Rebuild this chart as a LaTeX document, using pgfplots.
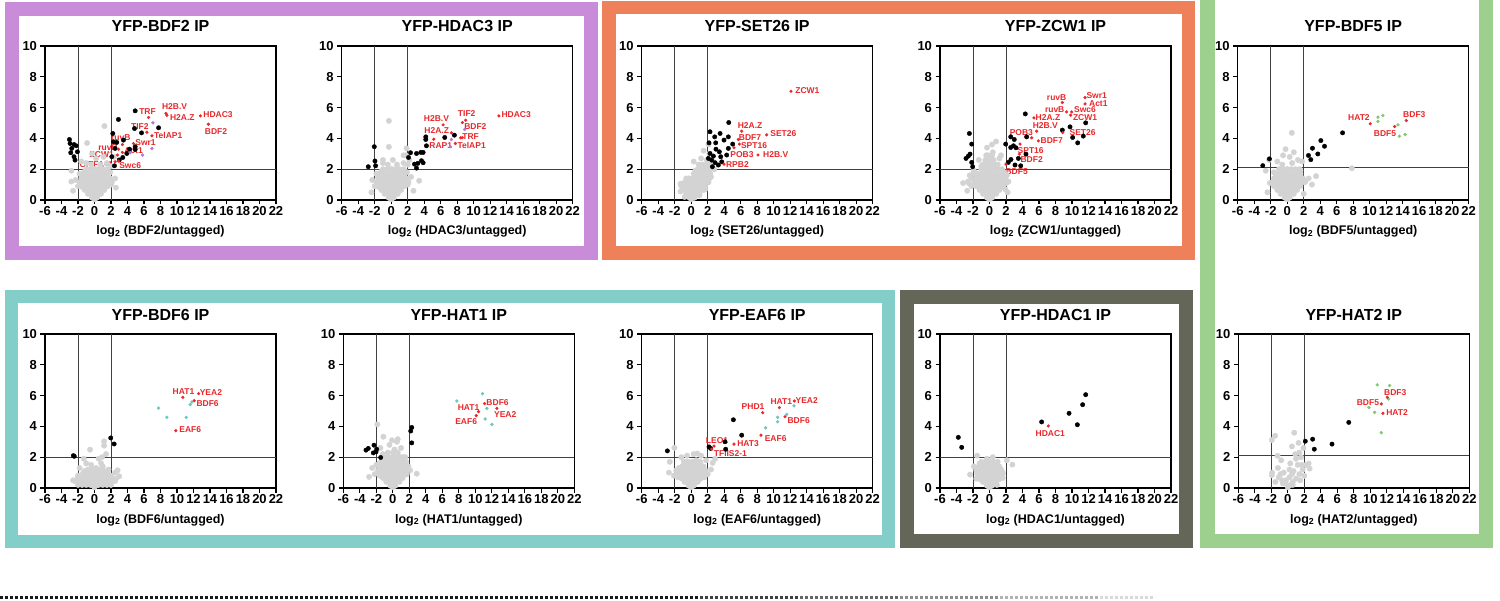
\documentclass[border=0pt]{standalone}
\usepackage{pgfplots}
\pgfplotsset{compat=1.18}
\usepackage{fontspec}
\setmainfont{Liberation Sans}
\definecolor{cpur}{RGB}{200,140,216}
\definecolor{cora}{RGB}{238,128,90}
\definecolor{cgrn}{RGB}{157,208,143}
\definecolor{ctea}{RGB}{132,206,202}
\definecolor{cdrk}{RGB}{100,102,88}
\definecolor{gry}{RGB}{211,211,211}
\definecolor{rd}{RGB}{232,40,43}
\definecolor{ppl}{RGB}{176,124,214}
\definecolor{grn}{RGB}{130,200,115}
\definecolor{tea}{RGB}{110,200,192}
\pgfplotsset{
 vp/.style={scale only axis, width=231pt, height=154pt, anchor=south west,
  xmin=-6, xmax=22, ymin=0, ymax=10,
  xtick={-6,-4,...,22}, ytick={0,2,...,10},
  tick align=outside, xtick pos=bottom, ytick pos=left,
  major tick length=4.5pt,
  axis line style={line width=1.4pt},
  every tick/.style={black, line width=1.2pt},
  tick label style={font=\fontsize{13}{13}\selectfont\bfseries},
  xticklabel style={inner sep=1.5pt},
  /pgf/number format/assume math mode=true,
  clip=false,
  title style={font=\fontsize{16}{16}\selectfont\bfseries, at={(axis description cs:0.5,1)}, anchor=base, yshift=8pt},
  xlabel style={font=\fontsize{12.5}{12.5}\selectfont\bfseries, at={(axis description cs:0.5,0)}, anchor=base, yshift=-35pt},
 },
 gp/.style={only marks, mark=*, mark size=2.7pt, color=gry},
 bp/.style={only marks, mark=*, mark size=2.2pt, color=black},
 rp/.style={only marks, mark=*, mark size=1.4pt, color=rd},
 cp/.style={only marks, mark=*, mark size=1.5pt, color=#1},
 thr/.style={black!75, line width=0.9pt},
}
\newcommand\lab[3]{\node[font=\fontsize{8.5}{8.5}\selectfont\bfseries, text=rd, inner sep=0pt] at (axis cs:#1,#2) {#3};}
\newcommand\thresh[1]{\addplot[thr] coordinates {(-2,0) (-2,10)};
 \addplot[thr] coordinates {(2,0) (2,10)};
 \addplot[thr] coordinates {(-6,#1) (22,#1)};}
% dense core of the grey cloud (shared shape of the volcano base)
\newcommand\corecloud{\addplot[gp] coordinates {(-0.3,0.15)(0,0.15)(0.3,0.15)
(-0.8,0.4)(-0.4,0.4)(0,0.4)(0.4,0.4)(0.8,0.4)
(-1.2,0.65)(-0.8,0.65)(-0.4,0.65)(0,0.65)(0.4,0.65)(0.8,0.65)(1.2,0.65)
(-1.6,0.9)(-1.2,0.9)(-0.8,0.9)(-0.4,0.9)(0,0.9)(0.4,0.9)(0.8,0.9)(1.2,0.9)(1.6,0.9)
(-1.8,1.15)(-1.3,1.15)(-0.8,1.15)(-0.3,1.15)(0.2,1.15)(0.7,1.15)(1.2,1.15)(1.7,1.15)(2.1,1.15)
(-1.6,1.4)(-1.1,1.4)(-0.6,1.4)(-0.1,1.4)(0.4,1.4)(0.9,1.4)(1.4,1.4)(1.9,1.4)
(-1.4,1.7)(-0.9,1.7)(-0.4,1.7)(0.1,1.7)(0.6,1.7)(1.1,1.7)(1.6,1.7)
(-1.0,2.0)(-0.5,2.0)(0,2.0)(0.5,2.0)(1.0,2.0)(1.5,2.0)};}
\begin{document}
\begin{tikzpicture}
\useasboundingbox (0,0) rectangle (1500pt,-601pt);
% frames
\draw[cpur, line width=14pt] (12pt,-9pt) rectangle (591pt,-253pt);
\draw[cora, line width=13.5pt] (608.75pt,-7.75pt) rectangle (1188.25pt,-253.25pt);
\draw[cgrn, line width=14.5pt] (1207.25pt,20pt) rectangle (1485.75pt,-540.75pt);
\draw[ctea, line width=13pt] (11.5pt,-296.5pt) rectangle (888.5pt,-541.5pt);
\draw[cdrk, line width=14pt] (907pt,-297pt) rectangle (1186pt,-541pt);
% dashed line
\draw[black!90, line width=2.6pt, dash pattern=on 3pt off 2pt] (0,-597.5pt) -- (700pt,-597.5pt);
\draw[black!75, line width=2.6pt, dash pattern=on 3pt off 2pt] (700pt,-597.5pt) -- (800pt,-597.5pt);
\draw[black!60, line width=2.6pt, dash pattern=on 3pt off 2pt] (800pt,-597.5pt) -- (900pt,-597.5pt);
\draw[black!45, line width=2.6pt, dash pattern=on 3pt off 2pt] (900pt,-597.5pt) -- (1000pt,-597.5pt);
\draw[black!30, line width=2.6pt, dash pattern=on 3pt off 2pt] (1000pt,-597.5pt) -- (1100pt,-597.5pt);
\draw[black!15, line width=2.6pt, dash pattern=on 3pt off 2pt] (1100pt,-597.5pt) -- (1155pt,-597.5pt);

% ---------- P1 BDF2
\begin{axis}[vp, at={(45pt,-200pt)}, title={YFP-BDF2 IP}, xlabel={log\textsubscript{2} (BDF2/untagged)}]
\corecloud
\addplot[gp] coordinates {(0,0.05)(0.3,0.25)(-0.3,0.3)(0.6,0.5)(-0.6,0.45)(0,0.55)(1.0,0.7)(-1.0,0.7)(1.5,0.9)(-1.5,0.85)(-2.0,0.9)(2.0,1.0)(0.3,1.0)(-0.4,1.05)(0.9,1.2)(-0.9,1.25)(1.4,1.4)(-1.4,1.35)(-2.3,1.3)(2.5,1.4)(0,1.5)(0.6,1.7)(-0.6,1.65)(1.2,1.9)(-1.2,1.85)(1.9,1.8)(-1.8,1.7)(0.1,2.0)(-0.4,2.3)(0.7,2.3)(1.5,2.4)(-1.0,2.4)(2.0,2.2)(-2.8,1.2)(-2.8,1.9)(-2.6,0.6)(2.6,0.8)(0.2,2.7)(-0.9,3.7)(1.2,4.8)(1.1,2.8)(-0.3,3.0)(-1.6,2.5)(2.4,2.8)};
\thresh{2}
\addplot[bp] coordinates {(4.93,5.79)(2.9,5.23)(4.85,4.64)(5.7,4.36)(7.77,4.69)(2.22,4.32)(2.3,3.78)(2.7,3.74)(3.51,3.89)(2.5,3.35)(4.24,3.3)(4.93,3.46)(4.93,3.28)(3.92,3.02)(3.43,2.76)(2.1,2.81)(2.42,2.22)(3.0,2.6)(-3.04,3.93)(-2.96,3.67)(-2.48,3.6)(-2.23,3.52)(-2.76,3.35)(-2.88,3.07)(-2.48,2.81)(-2.36,2.59)(-2.07,3.13)};
\addplot[cp=ppl] coordinates {(7.08,5.01)(6.96,3.35)(5.82,2.92)(4.32,3.07)};
\addplot[rp] coordinates {(6.55,5.36)(8.66,5.62)(8.78,5.5)(12.83,5.46)(13.8,4.92)(6.35,4.4)(6.96,4.17)(4.73,3.67)(3.39,3.6)(2.9,3.3)(2.79,2.92)(3.39,3.09)(2.5,2.48)(2.9,2.53)};
\lab{6.43}{5.72}{TRF}\lab{9.71}{6.09}{H2B.V}\lab{10.64}{5.36}{H2A.Z}\lab{14.97}{5.55}{HDAC3}
\lab{14.73}{4.47}{BDF2}\lab{5.5}{4.79}{TIF2}\lab{8.94}{4.17}{TelAP1}\lab{6.19}{3.71}{Swr1}
\lab{3.19}{4.06}{ruvB}\lab{1.65}{3.39}{ruvB}\lab{0.88}{2.96}{ZCW1}\lab{4.73}{3.2}{Act1}
\lab{0.15}{2.33}{CITFA-4}\lab{4.32}{2.22}{Swc6}
\end{axis}

% ---------- P2 HDAC3
\begin{axis}[vp, at={(341.7pt,-200pt)}, title={YFP-HDAC3 IP}, xlabel={log\textsubscript{2} (HDAC3/untagged)}]
\corecloud
\addplot[gp] coordinates {(0,0.05)(0.3,0.25)(-0.3,0.3)(0.6,0.5)(-0.6,0.45)(0,0.55)(1.0,0.7)(-1.0,0.7)(1.5,0.9)(-1.5,0.85)(-2.0,0.9)(2.0,1.0)(0.3,1.0)(-0.4,1.05)(0.9,1.2)(-0.9,1.25)(1.4,1.4)(-1.4,1.35)(-2.3,1.3)(2.4,1.5)(0,1.5)(0.6,1.7)(-0.6,1.65)(1.2,1.9)(-1.2,1.85)(1.9,1.8)(-1.8,1.7)(0.1,2.0)(-0.4,2.3)(0.7,2.3)(1.5,2.4)(-1.0,2.4)(2.0,2.3)(1.8,2.9)(-0.28,5.14)(-0.28,3.45)(1.86,3.35)(3.39,1.25)(1.5,2.9)(2.2,2.6)(-1.0,2.6)(0.2,2.6)(2.7,0.6)(-2.4,0.5)};
\thresh{2}
\addplot[bp] coordinates {(4.19,4.1)(4.19,3.93)(6.49,4.06)(7.66,4.21)(4.27,3.52)(2.34,3.07)(2.1,2.76)(3.07,3.02)(3.59,3.09)(3.87,3.09)(3.67,2.55)(3.87,2.42)(3.23,2.38)(3.07,2.07)(2.82,2.33)(-2.05,3.46)(-2.78,2.16)(-1.89,2.22)(-1.97,2.53)};
\addplot[cp=ppl] coordinates {(7.3,3.93)(7.17,3.46)(8.9,4.58)};
\addplot[rp] coordinates {(13.06,5.46)(9.03,5.18)(8.63,5.03)(6.29,4.88)(7.3,4.36)(8.42,4.04)(8.62,4.05)(5.16,3.95)(7.78,3.67)};
\lab{15.15}{5.57}{HDAC3}\lab{9.15}{5.62}{TIF2}\lab{10.2}{4.75}{BDF2}\lab{5.48}{5.29}{H2B.V}
\lab{5.52}{4.54}{H2A.Z}\lab{9.63}{4.1}{TRF}\lab{6.0}{3.56}{RAP1}\lab{9.75}{3.56}{TelAP1}
\end{axis}

% ---------- P3 SET26
\begin{axis}[vp, at={(641.7pt,-200pt)}, title={YFP-SET26 IP}, xlabel={log\textsubscript{2} (SET26/untagged)}]
\addplot[gp] coordinates {(-0.2,0.15)(0.1,0.15)(0.4,0.15)
(-0.6,0.4)(-0.2,0.4)(0.2,0.4)(0.6,0.4)(1.0,0.4)
(-0.9,0.65)(-0.5,0.65)(-0.1,0.65)(0.3,0.65)(0.7,0.65)(1.1,0.65)(1.5,0.65)
(-1.2,0.9)(-0.7,0.9)(-0.2,0.9)(0.3,0.9)(0.8,0.9)(1.3,0.9)(1.7,0.9)
(-0.8,1.15)(-0.3,1.15)(0.2,1.15)(0.7,1.15)(1.2,1.15)(1.7,1.15)(2.1,1.15)
(-0.3,1.4)(0.2,1.4)(0.7,1.4)(1.2,1.4)(1.7,1.4)(2.2,1.4)
(0.3,1.7)(0.8,1.7)(1.3,1.7)(1.8,1.7)(2.3,1.7)
(0.8,2.0)(1.3,2.0)(1.8,2.0)(2.3,2.0)(1.4,2.3)(1.9,2.3)(2.4,2.3)};
\addplot[gp] coordinates {(0,0.05)(0.3,0.2)(0.6,0.35)(-0.3,0.4)(0.2,0.6)(0.8,0.6)(-0.6,0.7)(1.2,0.9)(0.5,1.0)(-0.2,1.0)(-1.0,1.0)(-1.3,0.55)(-1.3,1.05)(1.5,1.3)(0.9,1.4)(0.2,1.4)(-0.6,1.4)(1.9,1.7)(1.3,1.8)(0.5,1.9)(2.3,2.1)(1.6,2.2)(0.9,2.3)(2.6,2.5)(1.9,2.6)(1.2,2.7)(2.2,3.0)(1.5,3.2)(2.1,3.6)(2.4,1.5)(2.8,2.0)(1.0,0.3)(-0.8,0.2)(1.7,0.7)(0.3,2.5)};
\thresh{2}
\addplot[bp] coordinates {(4.55,5.03)(2.28,4.43)(3.5,4.32)(2.85,4.1)(2.16,3.71)(2.97,3.71)(4.5,4.1)(3.98,3.89)(5.03,3.63)(4.5,3.35)(3.0,3.3)(3.41,3.13)(2.28,3.02)(2.69,2.85)(2.08,2.7)(2.48,2.59)(3.58,2.81)(4.3,2.92)(3.7,2.48)(2.9,2.42)(2.57,2.16)(3.29,2.27)};
\addplot[rp] coordinates {(12.1,7.06)(6.12,4.47)(9.15,4.23)(5.72,3.93)(5.84,3.63)(5.19,3.39)(8.1,2.92)(3.98,2.33)};
\lab{14.08}{7.13}{ZCW1}\lab{7.13}{4.84}{H2A.Z}\lab{11.17}{4.32}{SET26}\lab{7.13}{4.04}{BDF7}
\lab{7.62}{3.56}{SPT16}\lab{6.16}{2.98}{POB3}\lab{10.24}{2.98}{H2B.V}\lab{5.6}{2.33}{RPB2}
\end{axis}

% ---------- P4 ZCW1
\begin{axis}[vp, at={(940pt,-200pt)}, title={YFP-ZCW1 IP}, xlabel={log\textsubscript{2} (ZCW1/untagged)}]
\corecloud
\addplot[gp] coordinates {(-2.2,0.9)(-2.6,1.2)(-2.2,1.4)(-1.9,1.9)(-0.8,2.3)(-0.3,2.3)(0.2,2.3)(0.7,2.3)(-0.5,2.6)(0,2.6)(0.5,2.6)(-0.2,2.9)(0.3,2.9)(1.9,0.7)(2.1,1.6)};
\addplot[gp] coordinates {(0,0.05)(0.3,0.3)(-0.3,0.3)(0.7,0.5)(-0.7,0.5)(1.1,0.7)(-1.1,0.7)(1.5,0.9)(-1.5,0.9)(-2.0,1.0)(2.0,1.1)(-2.5,1.1)(-3.2,1.1)(0,0.9)(0.5,1.2)(-0.5,1.2)(1.0,1.4)(-1.0,1.4)(1.5,1.6)(-1.5,1.6)(-2.0,1.7)(1.8,1.8)(0,1.7)(0.5,2.1)(-0.5,2.1)(-1.0,2.2)(1.0,2.3)(0,2.6)(-0.4,2.9)(0.4,3.1)(0.8,3.8)(-0.3,3.4)(1.2,2.7)(2.3,1.2)(-2.4,1.6)(0.3,3.6)(1.4,2.9)(-1.3,2.6)(-2.7,0.6)(2.2,0.5)};
\thresh{2}
\addplot[bp] coordinates {(4.34,5.59)(11.66,5.01)(9.76,4.75)(8.83,4.54)(10.08,4.06)(11.37,4.15)(10.69,3.71)(4.5,4.1)(2.57,4.1)(3.0,3.93)(1.96,3.63)(2.57,3.41)(2.9,3.52)(3.21,3.39)(4.42,2.98)(3.5,2.7)(2.6,2.63)(2.28,2.44)(3.09,2.27)(3.78,2.22)(-2.44,4.32)(-2.16,3.63)(-2.36,2.98)(-2.57,2.85)(-2.85,2.7)(-2.16,2.44)(-2.04,2.16)};
\addplot[rp] coordinates {(11.58,6.65)(11.58,6.24)(8.83,6.33)(9.35,5.72)(9.96,5.72)(9.84,5.51)(5.39,5.33)(5.72,4.47)(5.11,4.04)(5.92,3.84)(8.87,4.38)(3.7,3.63)(3.62,2.98)(2.0,2.33)};
\lab{12.99}{6.76}{Swr1}\lab{13.19}{6.26}{Act1}\lab{8.14}{6.65}{ruvB}\lab{7.9}{5.9}{ruvB}
\lab{11.58}{5.87}{Swc6}\lab{11.58}{5.36}{ZCW1}\lab{7.09}{5.36}{H2A.Z}\lab{6.77}{4.86}{H2B.V}
\lab{3.86}{4.36}{POB3}\lab{7.54}{3.89}{BDF7}\lab{11.29}{4.41}{SET26}\lab{4.99}{3.2}{SPT16}
\lab{5.11}{2.66}{BDF2}\lab{3.29}{1.84}{BDF5}
\end{axis}

% ---------- P5 BDF5
\begin{axis}[vp, at={(1237.7pt,-200pt)}, title={YFP-BDF5 IP}, xlabel={log\textsubscript{2} (BDF5/untagged)}]
\corecloud
\addplot[gp] coordinates {(0,0.05)(0.3,0.3)(-0.3,0.3)(0.7,0.5)(-0.7,0.5)(1.1,0.8)(-1.1,0.8)(1.5,1.0)(-1.5,1.0)(-2.1,1.1)(2.2,1.2)(0,1.0)(0.5,1.3)(-0.5,1.3)(1.0,1.6)(-1.0,1.6)(-1.6,1.8)(1.6,1.9)(0,2.0)(-0.6,2.3)(0.6,2.4)(-1.2,2.5)(1.3,2.6)(-0.5,2.9)(0.8,3.1)(-0.2,3.3)(2.6,1.4)(3.5,1.55)(-2.6,1.9)(0.56,4.36)(7.84,2.06)(1.8,2.5)(-2.2,2.6)(0.3,2.8)(3.0,1.0)(-2.4,0.5)(2.0,0.4)};
\thresh{2.1}
\addplot[bp] coordinates {(6.71,4.36)(4.08,3.86)(4.52,3.49)(3.06,3.36)(3.71,2.99)(2.58,2.89)(2.86,2.62)(-2.96,2.23)(-2.16,2.67)};
\addplot[cp=grn] coordinates {(11.0,5.38)(11.0,5.1)(11.6,5.49)(13.43,4.88)(13.59,4.14)(14.3,4.25)};
\addplot[rp] coordinates {(10.07,4.95)(13.02,4.77)(14.44,5.16)};
\lab{8.69}{5.34}{HAT2}\lab{11.85}{4.34}{BDF5}\lab{15.41}{5.55}{BDF3}
\end{axis}

% ---------- P6 BDF6
\begin{axis}[vp, at={(45pt,-488pt)}, title={YFP-BDF6 IP}, xlabel={log\textsubscript{2} (BDF6/untagged)}, title style={yshift=-1pt}]
\addplot[gp] coordinates {(-2,0.2)(-1.5,0.2)(-1,0.2)(-0.5,0.2)(0.5,0.2)(1,0.2)(1.5,0.2)(2,0.2)
(-2.4,0.45)(-1.9,0.45)(-1.4,0.45)(-0.9,0.45)(-0.4,0.45)(0.1,0.45)(0.6,0.45)(1.1,0.45)(1.6,0.45)(2.1,0.45)(2.5,0.45)
(-2,0.7)(-1.5,0.7)(-1,0.7)(-0.5,0.7)(0,0.7)(0.5,0.7)(1,0.7)(1.5,0.7)(2,0.7)
(-1.4,0.95)(-0.9,0.95)(-0.4,0.95)(0.1,0.95)(0.6,0.95)(1.1,0.95)(1.6,0.95)
(-0.8,1.2)(-0.3,1.2)(0.2,1.2)(0.7,1.2)(1.0,1.4)};
\addplot[gp] coordinates {(0,0.05)(0.3,0.2)(-0.3,0.2)(0.7,0.3)(-0.7,0.3)(1.2,0.35)(-1.2,0.35)(1.7,0.4)(-1.7,0.4)(2.2,0.45)(-2.2,0.45)(-2.6,0.5)(2.6,0.6)(0,0.5)(0.5,0.6)(-0.5,0.6)(1.0,0.7)(-1.0,0.7)(1.5,0.75)(-1.5,0.75)(2.0,0.8)(-2.0,0.8)(0,0.9)(0.6,1.0)(-0.6,1.0)(1.2,1.1)(-1.2,1.1)(-1.8,1.3)(1.7,1.2)(0.2,1.3)(-0.4,1.5)(0.8,1.6)(-1.3,1.9)(0.5,1.9)(-0.54,2.49)(1.16,3.03)(1.16,2.75)(2.8,1.15)(3.0,0.76)(1.4,2.2)(2.5,1.0)(-1.0,1.6)(0.9,2.0)};
\thresh{2}
\addplot[bp] coordinates {(-2.56,2.1)(-2.45,2.06)(1.97,3.25)(2.38,2.86)};
\addplot[cp=tea] coordinates {(7.76,5.19)(8.77,4.59)(11.12,4.59)(11.6,5.41)(11.8,5.58)};
\addplot[rp] coordinates {(10.71,5.89)(12.62,6.13)(12.09,5.67)(9.86,3.72)};
\lab{10.79}{6.23}{HAT1}\lab{14.11}{6.23}{YEA2}\lab{13.71}{5.48}{BDF6}\lab{11.6}{3.77}{EAF6}
\end{axis}

% ---------- P7 HAT1
\begin{axis}[vp, at={(343.3pt,-488pt)}, title={YFP-HAT1 IP}, xlabel={log\textsubscript{2} (HAT1/untagged)}, title style={yshift=-1pt}]
\corecloud
\addplot[gp] coordinates {(0,0.05)(0.3,0.3)(-0.3,0.3)(0.7,0.5)(-0.7,0.5)(1.1,0.7)(-1.1,0.7)(-1.6,0.8)(1.5,0.9)(-2.2,0.9)(0,1.0)(0.5,1.2)(-0.5,1.2)(-1.0,1.4)(1.0,1.5)(-1.6,1.6)(0,1.8)(-0.6,2.0)(0.6,2.1)(-1.2,2.2)(0.2,2.5)(-0.4,2.8)(0.5,3.0)(1.3,2.0)(-2.0,1.5)(-2.5,1.3)(-1.87,4.13)(-1.14,3.33)(0.6,3.17)(1.7,0.9)(2.9,0.93)(-2.88,0.72)(1.0,2.6)(1.6,1.4)(-0.1,3.1)(-1.5,2.6)(-0.6,2.3)(0,2.3)(0.6,2.3)};
\thresh{2}
\addplot[bp] coordinates {(2.3,3.93)(2.17,3.7)(2.3,2.93)(-3.25,2.46)(-2.97,2.57)(-2.28,2.78)(-1.95,2.52)(-2.36,2.28)(-2.03,2.35)(-1.47,1.98)};
\addplot[cp=tea] coordinates {(7.76,5.65)(10.88,6.13)(11.4,5.17)(11.2,4.48)(12.01,4.13)};
\addplot[rp] coordinates {(11.12,5.48)(10.39,4.96)(10.11,4.7)(12.62,5.17)};
\lab{12.7}{5.54}{BDF6}\lab{9.18}{5.24}{HAT1}\lab{8.89}{4.3}{EAF6}\lab{13.63}{4.74}{YEA2}
\end{axis}

% ---------- P8 EAF6
\begin{axis}[vp, at={(641.7pt,-488pt)}, title={YFP-EAF6 IP}, xlabel={log\textsubscript{2} (EAF6/untagged)}, title style={yshift=-1pt}]
\addplot[gp] coordinates {(-0.3,0.15)(0,0.15)(0.3,0.15)
(-0.8,0.4)(-0.4,0.4)(0,0.4)(0.4,0.4)(0.8,0.4)
(-1.2,0.65)(-0.8,0.65)(-0.4,0.65)(0,0.65)(0.4,0.65)(0.8,0.65)(1.2,0.65)
(-1.6,0.9)(-1.2,0.9)(-0.8,0.9)(-0.4,0.9)(0,0.9)(0.4,0.9)(0.8,0.9)(1.2,0.9)(1.6,0.9)
(-1.8,1.15)(-1.3,1.15)(-0.8,1.15)(-0.3,1.15)(0.2,1.15)(0.7,1.15)(1.2,1.15)(1.7,1.15)
(-1.1,1.4)(-0.6,1.4)(-0.1,1.4)(0.4,1.4)(0.9,1.4)(1.4,1.4)
(-0.9,1.7)(-0.4,1.7)(0.1,1.7)(0.6,1.7)(1.1,1.7)};
\addplot[gp] coordinates {(0,0.05)(0.3,0.25)(-0.3,0.25)(0.7,0.4)(-0.7,0.4)(1.1,0.6)(-1.1,0.6)(1.6,0.7)(-1.6,0.7)(-2.1,0.8)(2.0,0.9)(-2.7,1.0)(0,0.8)(0.5,1.0)(-0.5,1.0)(1.0,1.2)(-1.0,1.2)(-1.5,1.3)(1.5,1.4)(0,1.5)(-0.6,1.7)(0.6,1.8)(-1.2,2.0)(1.2,2.1)(0.3,2.2)(-0.5,2.1)(-2.04,2.61)(0.75,2.24)(2.6,1.63)(2.9,1.9)(-2.6,1.7)(1.8,1.8)(2.4,1.2)(-1.8,1.1)};
\thresh{2}
\addplot[bp] coordinates {(5.11,4.43)(6.12,3.43)(4.1,3.0)(4.18,2.52)(2.16,2.67)(2.36,2.57)(-2.89,2.41)};
\addplot[cp=tea] coordinates {(12.46,5.33)(11.57,4.78)(10.48,4.59)(10.48,4.3)(9.03,3.91)};
\addplot[rp] coordinates {(12.5,5.65)(10.69,5.22)(8.67,4.89)(11.37,4.63)(8.46,3.43)(5.19,2.85)(2.77,2.72)(2.48,2.52)};
\lab{14.0}{5.65}{YEA2}\lab{10.93}{5.61}{HAT1}\lab{7.5}{5.26}{PHD1}\lab{13.03}{4.41}{BDF6}
\lab{10.24}{3.22}{EAF6}\lab{6.89}{2.87}{HAT3}\lab{3.13}{3.07}{LEO1}\lab{4.75}{2.24}{TFIIS2-1}
\end{axis}

% ---------- P9 HDAC1
\begin{axis}[vp, at={(940pt,-488pt)}, title={YFP-HDAC1 IP}, xlabel={log\textsubscript{2} (HDAC1/untagged)}, title style={yshift=-1pt}]
\addplot[gp] coordinates {(-0.3,0.15)(0,0.15)(0.3,0.15)
(-0.8,0.4)(-0.4,0.4)(0,0.4)(0.4,0.4)(0.8,0.4)
(-1.2,0.65)(-0.8,0.65)(-0.4,0.65)(0,0.65)(0.4,0.65)(0.8,0.65)(1.2,0.65)
(-1.5,0.9)(-1.1,0.9)(-0.7,0.9)(-0.3,0.9)(0.1,0.9)(0.5,0.9)(0.9,0.9)(1.3,0.9)(1.6,0.9)
(-1.6,1.15)(-1.1,1.15)(-0.6,1.15)(-0.1,1.15)(0.4,1.15)(0.9,1.15)(1.4,1.15)
(-1.3,1.4)(-0.8,1.4)(-0.3,1.4)(0.2,1.4)(0.7,1.4)(1.2,1.4)
(-1.0,1.7)(-0.5,1.7)(0,1.7)(0.5,1.7)};
\addplot[gp] coordinates {(0,0.05)(0.3,0.25)(-0.3,0.25)(0.7,0.4)(-0.7,0.4)(1.1,0.55)(-1.1,0.55)(-1.6,0.6)(1.6,0.65)(0,0.6)(0.5,0.8)(-0.5,0.8)(1.0,0.95)(-1.0,0.95)(-1.5,1.1)(1.4,1.2)(0,1.2)(-0.6,1.4)(0.6,1.5)(-1.2,1.6)(1.0,1.7)(-0.3,1.9)(0.4,2.0)(-1.5,2.1)(2.77,1.52)(2.1,1.8)(-2.36,0.87)(1.6,1.0)(-1.9,1.4)(0.9,0.2)};
\thresh{2}
\addplot[bp] coordinates {(6.32,4.29)(9.64,4.85)(11.29,5.41)(11.66,6.06)(10.65,4.11)(-3.78,3.29)(-3.37,2.64)};
\addplot[rp] coordinates {(7.13,4.03)};
\lab{7.37}{3.53}{HDAC1}
\end{axis}

% ---------- P10 HAT2
\begin{axis}[vp, at={(1238.3pt,-488pt)}, title={YFP-HAT2 IP}, xlabel={log\textsubscript{2} (HAT2/untagged)}, title style={yshift=-1pt}]
\addplot[gp] coordinates {(0,0.05)(0.3,0.2)(-0.3,0.3)(0.6,0.4)(-0.7,0.5)(1.0,0.6)(-1.1,0.7)(0.2,0.7)(1.4,0.9)(-0.5,1.0)(0.7,1.1)(1.8,1.2)(-1.2,1.3)(1.2,1.5)(2.2,1.5)(0.3,1.6)(2.52,1.59)(2.64,1.26)(-1.94,0.83)(-1.9,1.0)(1.6,2.0)(-1.25,2.09)(0.9,2.2)(1.3,2.93)(0.78,3.59)(-1.54,3.39)(-1.94,3.11)(1.9,2.6)(0.5,2.7)(2.0,0.8)(-0.8,1.8)(1.0,1.9)(-0.2,0.5)(0.5,0.9)(-0.6,0.3)(1.5,0.5)(0.2,1.2)(-0.9,0.9)(1.7,1.5)(1.4,2.3)(0.6,0.2)(-1.5,0.4)};
\thresh{2.1}
\addplot[bp] coordinates {(7.39,4.26)(5.36,2.85)(3.01,3.17)(2.12,3.04)(3.21,2.52)};
\addplot[cp=grn] coordinates {(10.84,6.7)(12.34,6.65)(12.18,5.78)(9.83,5.22)(10.52,4.91)(11.33,3.59)};
\addplot[rp] coordinates {(12.06,5.89)(11.33,5.46)(11.53,4.85)};
\lab{13.03}{6.22}{BDF3}\lab{9.71}{5.52}{BDF5}\lab{13.24}{4.93}{HAT2}
\end{axis}
\end{tikzpicture}
\end{document}
